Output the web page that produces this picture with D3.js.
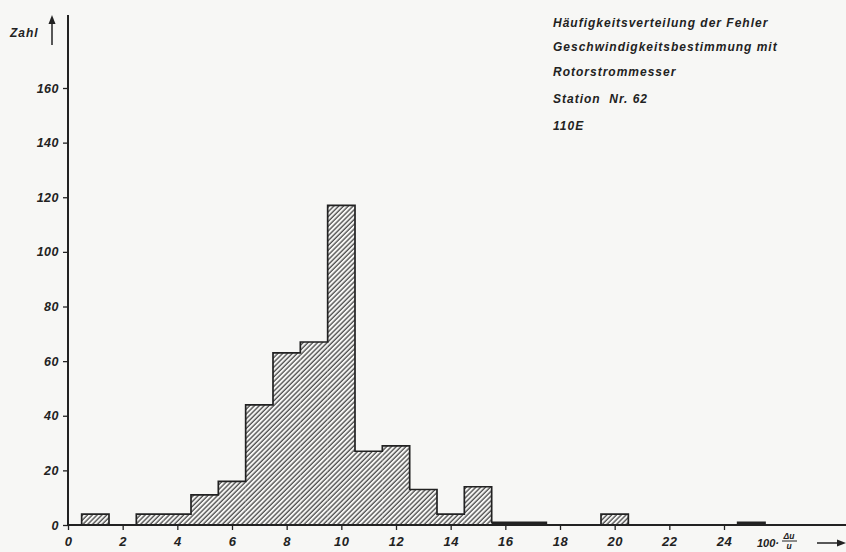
<!DOCTYPE html>
<html lang="de">
<head>
<meta charset="utf-8">
<title>Häufigkeitsverteilung der Fehler</title>
<script src="https://d3js.org/d3.v7.min.js"></script>
<style>
    body { margin: 0; background: #f7f7f5; }
    svg { display: block; }
    text { font-family: "Liberation Sans", sans-serif; font-style: italic; font-weight: bold; fill: #222; }
</style>
</head>
<body>
<div id="chart"></div>
<script>
// bin centres (width 1) and counts
var binCentres = [1, 3, 4, 5, 6, 7, 8, 9, 10, 11, 12, 13, 14, 15, 16, 17, 20, 25];
var binCounts  = [4, 4, 4, 11, 16, 44, 63, 67, 117, 27, 29, 13, 4, 14, 1, 1, 4, 1];

var xTicks = [0, 2, 4, 6, 8, 10, 12, 14, 16, 18, 20, 22, 24];
var yTicks = [0, 20, 40, 60, 80, 100, 120, 140, 160];

var titleLines = [
    "Häufigkeitsverteilung der Fehler",
    "Geschwindigkeitsbestimmung mit",
    "Rotorstrommesser",
    "Station  Nr. 62",
    "110E"
];

var width = 846, height = 552;
var ink = "#222";

var svg = d3.select("#chart").append("svg")
    .attr("width", width)
    .attr("height", height);

var x = d3.scaleLinear().domain([0, 24]).range([68, 724]);
var y = d3.scaleLinear().domain([0, 160]).range([525, 88]);

// hatch pattern "/"
svg.append("defs").append("pattern")
    .attr("id", "hatch")
    .attr("patternUnits", "userSpaceOnUse")
    .attr("width", 3.4)
    .attr("height", 3.4)
    .attr("patternTransform", "rotate(45)")
  .append("line")
    .attr("x1", 1).attr("y1", 0)
    .attr("x2", 1).attr("y2", 3.4)
    .attr("stroke", "#3a3a3a")
    .attr("stroke-width", 1.2);

var bins = binCentres.map(function(c, i) { return {c: c, n: binCounts[i]}; });

// hatched fill, no dividers between neighbouring bins
svg.append("g").selectAll("rect")
    .data(bins)
    .enter().append("rect")
    .attr("x", function(d) { return x(d.c - 0.5); })
    .attr("width", function(d) { return x(d.c + 0.5) - x(d.c - 0.5); })
    .attr("y", function(d) { return y(d.n); })
    .attr("height", function(d) { return y(0) - y(d.n); })
    .attr("fill", function(d) { return d.n > 2 ? "url(#hatch)" : ink; });

// stepped outline for each run of neighbouring bins
var runs = [];
bins.forEach(function(d, i) {
    if (i > 0 && d.c === bins[i - 1].c + 1) runs[runs.length - 1].push(d);
    else runs.push([d]);
});

svg.append("g").selectAll("path")
    .data(runs)
    .enter().append("path")
    .attr("fill", "none")
    .attr("stroke", ink)
    .attr("stroke-width", 1.7)
    .attr("stroke-linejoin", "miter")
    .attr("d", function(run) {
        var p = "M" + x(run[0].c - 0.5) + "," + y(0);
        run.forEach(function(d) {
            p += "L" + x(d.c - 0.5) + "," + y(d.n) + "L" + x(d.c + 0.5) + "," + y(d.n);
        });
        p += "L" + x(run[run.length - 1].c + 0.5) + "," + y(0);
        return p;
    });

// y axis
var yAxis = svg.append("g")
    .attr("transform", "translate(" + x(0) + ",0)")
    .call(d3.axisLeft(y).tickValues(yTicks).tickSize(5).tickPadding(4));
yAxis.select(".domain").remove();
yAxis.selectAll("line").attr("stroke", ink).attr("stroke-width", 1.3);
yAxis.selectAll("text").attr("font-size", 12.5).attr("font-family", null)
    .attr("letter-spacing", 0.5).attr("fill", ink);

svg.append("line")
    .attr("x1", x(0)).attr("x2", x(0))
    .attr("y1", 15).attr("y2", y(0))
    .attr("stroke", ink).attr("stroke-width", 2);

// x axis
var xAxis = svg.append("g")
    .attr("transform", "translate(0," + y(0) + ")")
    .call(d3.axisBottom(x).tickValues(xTicks).tickSize(5).tickPadding(7));
xAxis.select(".domain").remove();
xAxis.selectAll("line").attr("stroke", ink).attr("stroke-width", 1.3);
xAxis.selectAll("text").attr("font-size", 13).attr("font-family", null)
    .attr("letter-spacing", 0.5).attr("fill", ink);

svg.append("line")
    .attr("x1", x(0)).attr("x2", width)
    .attr("y1", y(0)).attr("y2", y(0))
    .attr("stroke", ink).attr("stroke-width", 2);

// y label with arrow
svg.append("text").attr("x", 10).attr("y", 37).attr("font-size", 12)
    .attr("letter-spacing", 1).text("Zahl");
svg.append("line")
    .attr("x1", 52).attr("x2", 52).attr("y1", 45).attr("y2", 20)
    .attr("stroke", ink).attr("stroke-width", 1.5);
svg.append("path")
    .attr("d", "M48.5,24 L52,15 L55.5,24 Z")
    .attr("fill", ink);

// x label 100·Δu/u with arrow
var xl = svg.append("g");
xl.append("text").attr("x", 757).attr("y", 547).attr("font-size", 11).text("100·");
xl.append("text").attr("x", 789).attr("y", 539).attr("font-size", 8.5).attr("text-anchor", "middle").text("Δu");
xl.append("line").attr("x1", 782).attr("x2", 797).attr("y1", 541).attr("y2", 541)
    .attr("stroke", ink).attr("stroke-width", 1);
xl.append("text").attr("x", 789).attr("y", 549).attr("font-size", 8.5).attr("text-anchor", "middle").text("u");
svg.append("line")
    .attr("x1", 817).attr("x2", 840).attr("y1", 543).attr("y2", 543)
    .attr("stroke", ink).attr("stroke-width", 1.5);
svg.append("path")
    .attr("d", "M837,539.5 L846,543 L837,546.5 Z")
    .attr("fill", ink);

// title block
svg.append("g").selectAll("text")
    .data(titleLines)
    .enter().append("text")
    .attr("x", 553)
    .attr("y", function(d, i) { return [27, 51, 76, 103, 130][i]; })
    .attr("font-size", 12)
    .attr("letter-spacing", 1)
    .attr("xml:space", "preserve")
    .text(function(d) { return d; });
</script>
</body>
</html>
